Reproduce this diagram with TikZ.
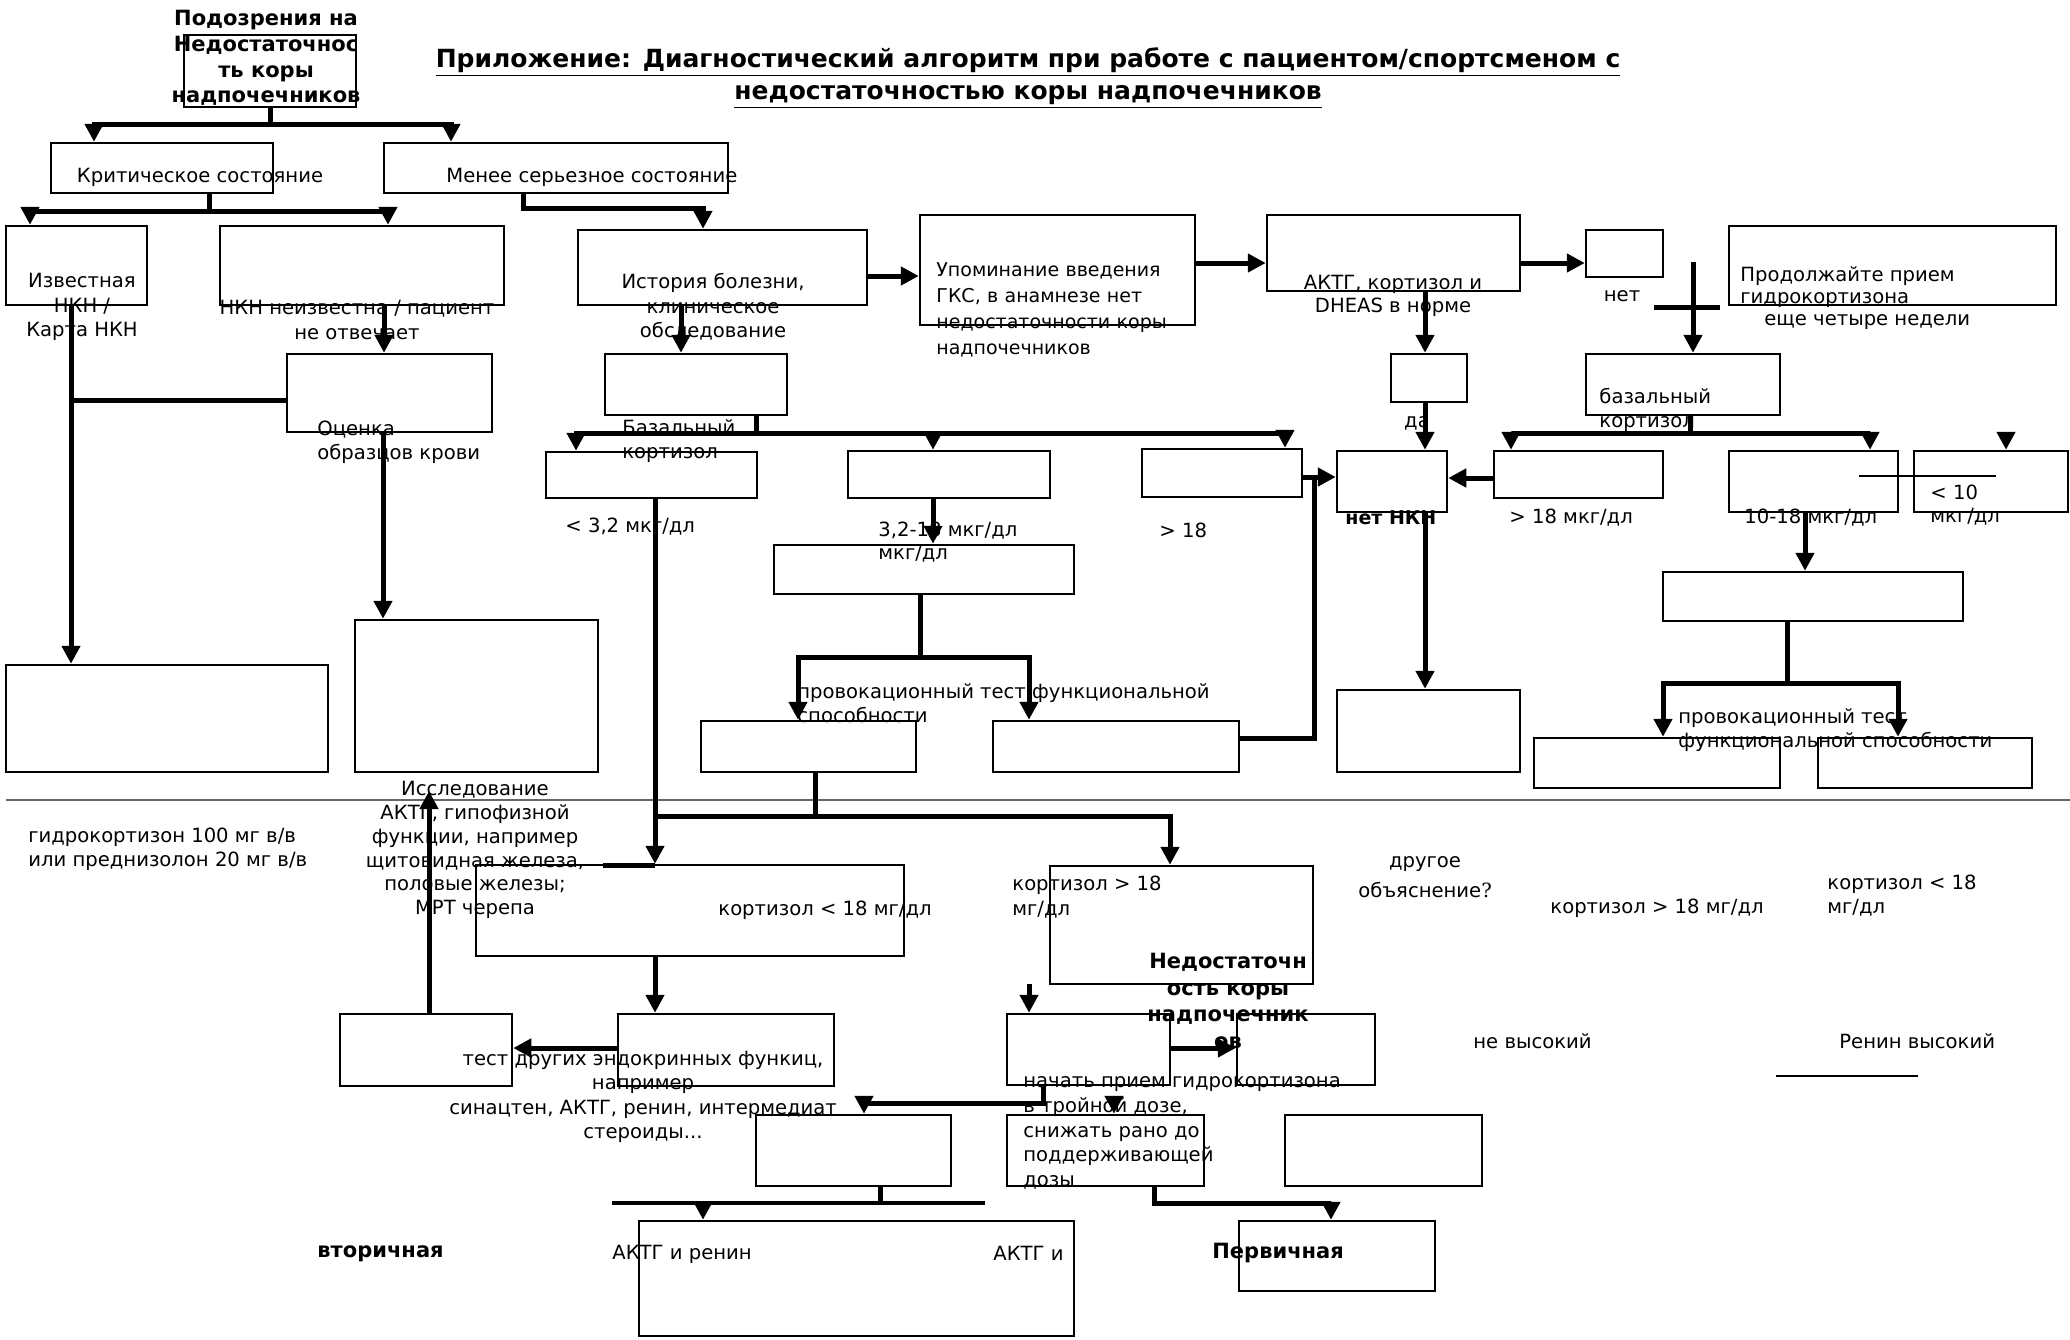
\documentclass[tikz,border=0pt]{standalone}
\usepackage{fontspec}
\setmainfont{DejaVu Sans}
\newfontfamily\qfont{DejaVu Serif}
\usetikzlibrary{arrows.meta, fit}

\tikzset{
  box/.style={draw, line width=1.25pt, inner sep=0pt},
  link/.style={line width=2.5pt},
  arr/.style={link, -{Triangle[length=9pt, width=9pt]}},
  txt/.style={inner sep=0pt, align=left, font=\fontsize{9.8}{11.8}\selectfont},
  boldtxt/.style={inner sep=0pt, align=left, font=\fontsize{10.5}{12.8}\selectfont\bfseries},
}
% empty frame from corner to corner (pixel units)
\newcommand{\flowbox}[5]{\node[box, fit={(#2,#3) (#4,#5)}] (#1) {};}

\begin{document}
\begin{tikzpicture}[x=0.5pt, y=-0.5pt]
\useasboundingbox (0,0) rectangle (2070,1339);

% Title
\node[txt, align=center, font=\fontsize{12.5}{15.8}\selectfont\bfseries] (title) at (1028,78)
  {\underline{Приложение: Диагностический алгоритм при работе с пациентом/спортсменом с}\\
   \underline{недостаточностью коры надпочечников}};

% Upper part
\flowbox{suspect}{184}{35}{356}{107}
\node[boldtxt, align=center] (suspecttxt) at (266,58) {Подозрения на\\Недостаточнос\\ть коры\\надпочечников};
\flowbox{crit}{51}{143}{273}{193}
\node[txt] (crittxt) at (200,177) {Критическое состояние};
\flowbox{mild}{384}{143}{728}{193}
\node[txt, anchor=west] (mildtxt) at (446,177) {Менее серьезное состояние};

\flowbox{known}{6}{226}{147}{305}
\node[txt, align=center, font=\fontsize{9.8}{12.2}\selectfont] (knowntxt) at (82,307) {Известная\\НКН /\\Карта НКН};
\flowbox{unknown}{220}{226}{504}{305}
\node[txt, align=center, font=\fontsize{9.8}{12.2}\selectfont] (unknowntxt) at (357,320) {НКН неизвестна / пациент\\не отвечает};
\flowbox{blood}{287}{354}{492}{432}
\node[txt, anchor=west] (bloodtxt) at (317,442) {Оценка\\образцов крови};

\flowbox{hist}{578}{230}{867}{305}
\node[txt, align=center, font=\fontsize{9.8}{12.2}\selectfont] (histtxt) at (713,307) {История болезни,\\клиническое\\обследование};
\flowbox{mention}{920}{215}{1195}{325}
\node[txt, anchor=west, text width=113pt, font=\fontsize{9.5}{13}\selectfont] (mentiontxt) at (936,310)
  {\makebox[113pt][s]{Упоминание введения}\\\makebox[113pt][s]{ГКС, в анамнезе нет}\\\makebox[113pt][s]{недостаточности коры}\\надпочечников};
\flowbox{norm}{1267}{215}{1520}{291}
\node[txt, align=center] (normtxt) at (1393,296) {АКТГ, кортизол и\\DHEAS в норме};
\flowbox{no}{1586}{230}{1663}{277}
\node[txt] (notxt) at (1622,296) {нет};
\flowbox{cont}{1729}{226}{2056}{305}
\node[txt, anchor=west, font=\fontsize{9.8}{11.2}\selectfont] (conttxt) at (1740,298)
  {Продолжайте прием\\гидрокортизона\\\hspace*{12pt}еще четыре недели};

\flowbox{yes}{1391}{354}{1467}{402}
\node[txt] (yestxt) at (1417,423) {да};
\flowbox{basalR}{1586}{354}{1780}{415}
\node[txt, anchor=west] (basalRtxt) at (1599,410) {базальный\\кортизол};
\flowbox{basalL}{605}{354}{787}{415}
\node[txt, anchor=west] (basalLtxt) at (622,441) {Базальный\\кортизол};

% Cortisol ranges
\flowbox{lowL}{546}{452}{757}{498}
\flowbox{midL}{848}{451}{1050}{498}
\flowbox{highL}{1142}{449}{1302}{497}
\node[txt, anchor=west] (lowLtxt) at (565,527) {< 3,2 мкг/дл};
\node[txt, anchor=west] (midLtxt) at (878,542) {3,2-18 мкг/дл\\мкг/дл};
\node[txt, anchor=west] (highLtxt) at (1159,530) {> 18};
\flowbox{noai}{1337}{451}{1447}{512}
\node[boldtxt, anchor=west, font=\fontsize{9.5}{11.5}\selectfont\bfseries] (noaitxt) at (1345,518) {нет НКН};
\flowbox{highR}{1494}{451}{1663}{498}
\node[txt, anchor=west] (highRtxt) at (1509,518) {> 18 мкг/дл};
\flowbox{midR}{1729}{451}{1898}{512}
\node[txt, anchor=west] (midRtxt) at (1744,518) {10-18 мкг/дл};
\flowbox{lowR}{1914}{451}{2068}{512}
\node[txt, anchor=west] (lowRtxt) at (1930,505) {< 10\\мкг/дл};
\draw[line width=1.3pt] (1859,476) -- (1996,476);

% Provocation tests
\flowbox{provL}{774}{545}{1074}{594}
\flowbox{provL1}{701}{721}{916}{772}
\flowbox{provL2}{993}{721}{1239}{772}
\node[txt, anchor=west] (provLtxt) at (797,703) {провокационный тест функциональной\\способности};
\flowbox{provR}{1663}{572}{1963}{621}
\flowbox{provR1}{1534}{738}{1780}{788}
\flowbox{provR2}{1818}{738}{2032}{788}
\node[txt, anchor=west] (provRtxt) at (1678,730) {провокационный тест\\функциональной способности};
\flowbox{noaiRes}{1337}{690}{1520}{772}
\flowbox{emerg}{6}{665}{328}{772}
\flowbox{bloodRes}{355}{620}{598}{772}

% divider
\draw[line width=1pt, black!60] (6,800) -- (2070,800);

% Lower part
\node[txt, anchor=west] (hctxt) at (28,849) {гидрокортизон 100 мг в/в\\или преднизолон 20 мг в/в};
\node[txt, align=center, font=\fontsize{9.8}{11.9}\selectfont] (studytxt) at (475,850)
  {Исследование\\АКТГ, гипофизной\\функции, например\\щитовидная железа,\\половые железы;\\МРТ черепа};
\flowbox{cortLow}{476}{865}{904}{956}
\node[txt, anchor=west] (cortLowtxt) at (718,910) {кортизол < 18 мг/дл};
\flowbox{cortHigh}{1050}{866}{1313}{984}
\node[txt, anchor=west, font=\fontsize{9.8}{12.5}\selectfont] (cortHightxt) at (1012,897) {кортизол > 18\\мг/дл};
\node[boldtxt, align=center, font=\fontsize{10.5}{13.3}\selectfont\bfseries] (insufftxt) at (1228,1001) {Недостаточн\\ость коры\\надпочечник\\ов};
\node[txt, align=center, font=\fontsize{9.8}{15}\selectfont] (othertxt) at (1425,877) {другое\\объяснение{\qfont ?}};
\node[txt, anchor=west] (gt18txt) at (1550,908) {кортизол > 18 мг/дл};
\node[txt, anchor=west, font=\fontsize{9.8}{12}\selectfont] (lt18txt) at (1827,896) {кортизол < 18\\мг/дл};

\flowbox{pit}{340}{1014}{512}{1086}
\flowbox{endo}{618}{1014}{834}{1086}
\node[txt, align=center, font=\fontsize{9.8}{12.2}\selectfont] (endotxt) at (643,1097) {тест других эндокринных функиц,\\например\\синацтен, АКТГ, ренин, интермедиат\\стероиды...};
\flowbox{start}{1007}{1014}{1170}{1085}
\flowbox{insuff}{1237}{1014}{1375}{1085}
\node[txt, anchor=west, font=\fontsize{9.8}{12.3}\selectfont] (starttxt) at (1023,1133) {начать прием гидрокортизона\\в тройной дозе,\\снижать рано до\\поддерживающей\\дозы};
\node[txt, anchor=west] (notHightxt) at (1473,1041) {не высокий};
\node[txt, anchor=west] (reninHightxt) at (1839,1041) {Ренин высокий};
\draw[line width=1.3pt] (1776,1076) -- (1918,1076);

\flowbox{sec}{756}{1115}{951}{1186}
\flowbox{dose}{1007}{1115}{1204}{1186}
\flowbox{other}{1285}{1115}{1482}{1186}
\flowbox{renin}{639}{1221}{1074}{1336}
\flowbox{prim}{1239}{1221}{1435}{1291}
\node[boldtxt, anchor=west] (sectxt) at (317,1254) {вторичная};
\node[txt, anchor=west] (renintxt) at (612,1254) {АКТГ и ренин};
\node[txt, anchor=west] (renin2txt) at (993,1253) {АКТГ и};
\node[boldtxt, anchor=west] (primtxt) at (1212,1253) {Первичная};

% Connectors
\coordinate (a1) at (94,124);
\coordinate (a2) at (451,124);
\draw[arr] (suspect.south) |- (a1) -- (a1 |- crit.north);
\draw[arr] (suspect.south |- a1) -- (a2) -- (a2 |- mild.north);

\coordinate (b0) at (209,211);
\coordinate (b1) at (30,211);
\coordinate (b2) at (388,211);
\draw[arr] (b0 |- crit.south) -- (b0) -- (b1) -- (b1 |- known.north);
\draw[arr] (b0) -- (b2) -- (b2 |- unknown.north);

\coordinate (c0) at (523,208);
\coordinate (c1) at (703,208);
\draw[arr] (c0 |- mild.south) -- (c0) -- (c1) -- (c1 |- hist.north);

\coordinate (xd) at (384,0);
\draw[arr] (xd |- unknown.south) -- (xd |- blood.north);
\coordinate (xe) at (71,0);
\coordinate (ye) at (0,400);
\draw[arr] (xe |- known.south) -- (xe |- emerg.north);
\draw[link] (xe |- ye) -- (ye -| blood.west);
\coordinate (xf) at (383,0);
\draw[arr] (xf |- blood.south) -- (xf |- bloodRes.north);

\coordinate (xg) at (681,0);
\draw[arr] (xg |- hist.south) -- (xg |- basalL.north);
\coordinate (yh) at (0,276);
\draw[arr] (yh -| hist.east) -- (yh -| mention.west);
\coordinate (yi) at (0,263);
\draw[arr] (yi -| mention.east) -- (yi -| norm.west);
\draw[arr] (yi -| norm.east) -- (yi -| no.west);

\coordinate (xj) at (1425,0);
\draw[arr] (xj |- norm.south) -- (xj |- yes.north);
\draw[arr] (xj |- yes.south) -- (xj |- noai.north);
\draw[arr] (xj |- noai.south) -- (xj |- noaiRes.north);

\coordinate (k0) at (1693,262);
\coordinate (k1) at (1654,307);
\coordinate (k2) at (1720,307);
\draw[arr] (k0) -- (k0 |- basalR.north);
\draw[link] (k1) -- (k2);

\coordinate (l0) at (1690,433);
\coordinate (l1) at (1511,433);
\coordinate (l2) at (1870,433);
\coordinate (l3) at (2006,433);
\draw[arr] (l0 |- basalR.south) -- (l0) -- (l1) -- (l1 |- highR.north);
\draw[arr] (l0) -- (l2) -- (l2 |- midR.north);
\draw[arr] (l3) -- (l3 |- lowR.north);
\coordinate (ym) at (0,478);
\draw[arr] (ym -| highR.west) -- (ym -| noai.east);

\coordinate (n0) at (756,433);
\coordinate (n1) at (576,433);
\coordinate (n2) at (933,433);
\coordinate (n3) at (1285,433);
\draw[arr] (n0 |- basalL.south) -- (n0) -- (n1) -- (n1 |- lowL.north);
\draw[arr] (n0) -- (n3) -- (n3 |- highL.north);
\draw[arr] (n2) -- (n2 |- midL.north);
\draw[arr] (n2 |- midL.south) -- (n2 |- provL.north);

\coordinate (p0) at (920,657);
\coordinate (p1) at (798,657);
\coordinate (p2) at (1029,657);
\draw[arr] (p0 |- provL.south) -- (p0) -- (p1) -- (p1 |- provL1.north);
\draw[arr] (p0) -- (p2) -- (p2 |- provL2.north);

\coordinate (q0) at (1314,738);
\coordinate (q1) at (1314,477);
\draw[arr] (q0 -| provL2.east) -- (q0) -- (q1) -- (q1 -| noai.west);
\draw[link] (q1 -| highL.east) -- (q1);

\coordinate (xp) at (1787,0);
\coordinate (yp) at (0,683);
\coordinate (xp1) at (1663,0);
\coordinate (xp2) at (1898,0);
\coordinate (xr) at (1805,0);
\draw[arr] (xr |- midR.south) -- (xr |- provR.north);
\draw[arr] (xp |- provR.south) -- (xp |- yp) -- (xp1 |- yp) -- (xp1 |- provR1.north);
\draw[arr] (xp |- yp) -- (xp2 |- yp) -- (xp2 |- provR2.north);

\coordinate (r0) at (655,816);
\coordinate (r1) at (1170,816);
\coordinate (r2) at (815,816);
\coordinate (r3) at (603,865);
\draw[arr] (r0 |- lowL.south) -- (r0 |- cortLow.north);
\draw[arr] (r0) -- (r1) -- (r1 |- cortHigh.north);
\draw[link] (r2 |- provL1.south) -- (r2);
\draw[link] (r3) -- (r0 |- r3);

\draw[arr] (r0 |- cortLow.south) -- (r0 |- endo.north);
\coordinate (yt) at (0,1048);
\draw[arr] (yt -| endo.west) -- (yt -| pit.east);
\coordinate (u0) at (429,791);
\draw[arr] (u0 |- pit.north) -- (u0);
\coordinate (v0) at (1029,984);
\draw[arr] (v0) -- (v0 |- start.north);
\draw[arr] (yt -| start.east) -- (yt -| insuff.west);

\coordinate (w0) at (1043,1103);
\coordinate (w1) at (864,1103);
\coordinate (w2) at (1114,1096);
\draw[arr] (w0 |- start.south) -- (w0) -- (w1) -- (w1 |- sec.north);
\draw[arr] (w2) -- (w2 |- dose.north);

\coordinate (z0) at (880,1203);
\coordinate (z1) at (612,1203);
\coordinate (z2) at (985,1203);
\coordinate (z3) at (703,1203);
\coordinate (z4) at (1154,1203);
\coordinate (z5) at (1331,1203);
\draw[link] (z0 |- sec.south) -- (z0);
\draw[link, line width=2pt] (z1) -- (z2);
\draw[arr] (z3) -- (z3 |- renin.north);
\draw[arr] (z4 |- dose.south) -- (z4) -- (z5) -- (z5 |- prim.north);

\end{tikzpicture}
\end{document}
